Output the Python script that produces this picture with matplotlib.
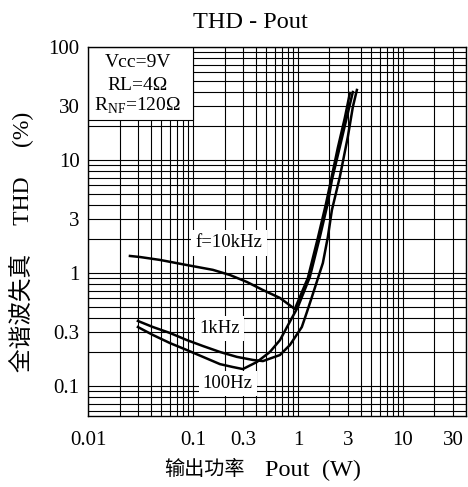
import numpy as np
import matplotlib
matplotlib.use("Agg")
import matplotlib.pyplot as plt
from matplotlib.ticker import LogLocator, NullFormatter, FixedLocator, FixedFormatter
from matplotlib.patches import Rectangle

plt.rcParams['font.family'] = ['Liberation Serif', 'Noto Sans CJK SC']
plt.rcParams['mathtext.fontset'] = 'custom'
plt.rcParams['mathtext.rm'] = 'Liberation Serif'

# THD (%) vs output power (W), Vcc=9V, RL=4 ohm
pout_10k = [0.0251, 0.0313, 0.0485, 0.0877, 0.155, 0.225, 0.327, 0.464, 0.675,
            0.935, 1.245, 1.55, 1.85, 2.06, 2.40, 2.80, 3.13]
thd_10k = [1.42, 1.39, 1.31, 1.18, 1.07, 0.964, 0.836, 0.710, 0.604,
           0.482, 0.908, 2.05, 4.09, 6.53, 12.8, 23.6, 39.2]

pout_1k = [0.0299, 0.0416, 0.0604, 0.0877, 0.1245, 0.181, 0.262, 0.372, 0.464,
           0.675, 0.840, 1.09, 1.22, 1.36, 1.73, 1.93, 2.11, 2.51, 2.99, 3.34, 3.65]
thd_1k = [0.378, 0.334, 0.296, 0.256, 0.227, 0.201, 0.182, 0.171, 0.167,
          0.189, 0.232, 0.334, 0.454, 0.616, 1.23, 2.09, 3.62, 7.09, 16.0, 29.5, 41.7]

pout_100 = [0.0299, 0.0416, 0.0604, 0.0877, 0.1245, 0.181, 0.240, 0.299, 0.407,
            0.541, 0.675, 0.877, 1.0, 1.30, 1.62, 1.93, 2.11, 2.51, 2.93, 3.34]
thd_100 = [0.334, 0.284, 0.241, 0.209, 0.182, 0.157, 0.148, 0.142, 0.164,
           0.201, 0.256, 0.402, 0.502, 0.925, 2.09, 4.18, 6.67, 13.1, 24.0, 40.0]

x_ticks = [0.01, 0.1, 0.3, 1, 3, 10, 30]
x_labels = ['0.01', '0.1', '0.3', '1', '3', '10', '30']
y_ticks = [0.1, 0.3, 1, 3, 10, 30, 100]
y_labels = ['0.1', '0.3', '1', '3', '10', '30', '100']

fig = plt.figure(figsize=(4.68, 4.87), dpi=100)
ax = fig.add_axes([88 / 468, 1 - 416 / 487, 378 / 468, 369 / 487])
ax.set_xscale('log')
ax.set_yscale('log')
ax.set_xlim(0.01, 40)
ax.set_ylim(0.0546, 100)

ax.xaxis.set_major_locator(FixedLocator(x_ticks))
ax.xaxis.set_major_formatter(FixedFormatter(x_labels))
ax.yaxis.set_major_locator(FixedLocator(y_ticks))
ax.yaxis.set_major_formatter(FixedFormatter(y_labels))
for axis in (ax.xaxis, ax.yaxis):
    axis.set_minor_locator(LogLocator(base=10, subs=np.arange(1, 10), numticks=20))
    axis.set_minor_formatter(NullFormatter())
ax.tick_params(which='both', length=0, labelsize=15)
ax.tick_params(axis='x', pad=11)
ax.tick_params(axis='y', pad=6)

ax.set_axisbelow(True)
ax.grid(True, which='both', color='black', lw=0.8)
for sp in ax.spines.values():
    sp.set_color('black')
    sp.set_linewidth(1.0)

ax.plot(pout_10k, thd_10k, color='black', lw=1.8, zorder=3)
ax.plot(pout_1k, thd_1k, color='black', lw=1.8, zorder=3)
ax.plot(pout_100, thd_100, color='black', lw=1.8, zorder=3)

# conditions box in the upper left corner
ax.add_patch(Rectangle((0, 0.802), 0.278, 0.198, transform=ax.transAxes,
                       facecolor='white', edgecolor='black', lw=0.8, zorder=2))
ax.text(0.132, 0.959, 'Vcc=9V', transform=ax.transAxes, ha='center', va='center',
        fontsize=14, zorder=4)
ax.text(0.132, 0.897, 'RL=4Ω', transform=ax.transAxes, ha='center', va='center',
        fontsize=14, zorder=4)
ax.text(0.13, 0.840, r'R$_\mathregular{NF}$=120Ω', transform=ax.transAxes,
        ha='center', va='center', fontsize=14, zorder=4)

box = dict(facecolor='white', edgecolor='none', pad=3)
ax.text(0.373, 0.469, 'f=10kHz', transform=ax.transAxes, ha='center', va='center',
        fontsize=13.5, bbox=box, zorder=4)
ax.text(0.349, 0.238, '1kHz', transform=ax.transAxes, ha='center', va='center',
        fontsize=13.5, bbox=box, zorder=4)
ax.text(0.370, 0.089, '100Hz', transform=ax.transAxes, ha='center', va='center',
        fontsize=13.5, bbox=box, zorder=4)

fig.text(250 / 468, 1 - 22 / 487, 'THD - Pout', ha='center', va='center', fontsize=17.5)
fig.text(22 / 468, 1 - 242 / 487, '全谐波失真     THD     (%)', rotation=90,
         ha='center', va='center', fontsize=17)
fig.text(245 / 468, 1 - 470 / 487, '输出功率', ha='right', va='center', fontsize=14.5)
fig.text(265 / 468, 1 - 470 / 487, 'Pout  (W)', ha='left', va='center', fontsize=17.5)

fig.savefig('out.png', dpi=100)
